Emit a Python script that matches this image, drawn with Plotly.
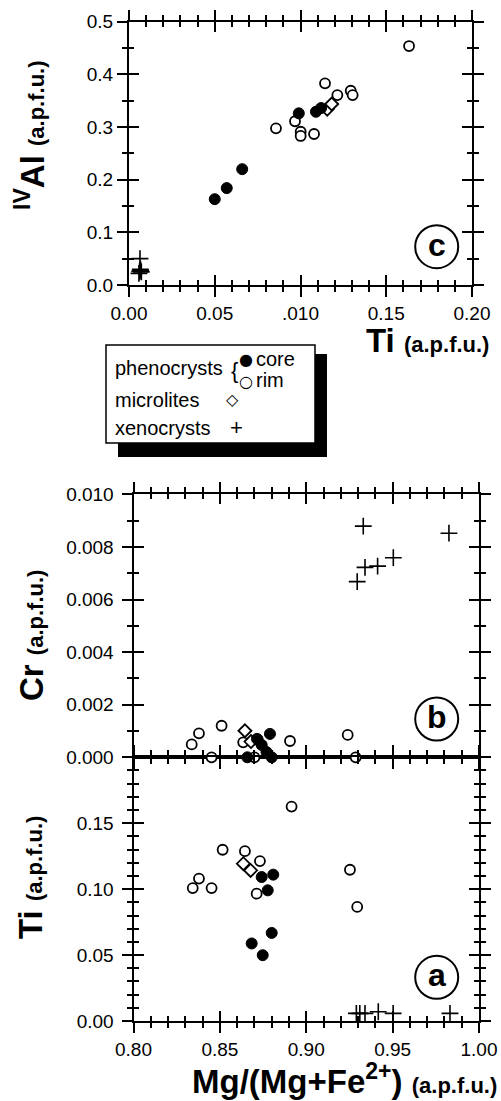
import plotly.graph_objects as go

W, H = 501, 1101
def px(x): return x / W
def py(y): return 1 - y / H

# ---------------- data ----------------
# panel c : Ti vs IV-Al
c_core_ti = [0.050, 0.057, 0.066, 0.099, 0.109, 0.112]
c_core_al = [0.163, 0.184, 0.220, 0.326, 0.329, 0.336]
c_rim_ti = [0.0857, 0.0968, 0.1001, 0.1001, 0.1079, 0.1143, 0.1215, 0.1293, 0.1304, 0.1633]
c_rim_al = [0.2975, 0.311, 0.291, 0.283, 0.2867, 0.383, 0.3607, 0.3689, 0.3607, 0.4538]
c_mic_ti = [0.1156, 0.1182]
c_mic_al = [0.334, 0.3437]
c_xen_ti = [0.0064, 0.0058, 0.0062, 0.0066, 0.0068, 0.0072]
c_xen_al = [0.050, 0.022, 0.026, 0.030, 0.028, 0.025]

# panel b : Mg# vs Cr
b_core_mg = [0.8659, 0.8742, 0.8715, 0.8770, 0.8800, 0.8790]
b_core_cr = [0.0, 0.00047, 0.0007, 0.0002, 0.0, 0.00089]
b_rim_mg = [0.8337, 0.8379, 0.8452, 0.8510, 0.8635, 0.8720, 0.8700, 0.8906, 0.9240, 0.9286]
b_rim_cr = [0.00049, 0.00091, 0.0, 0.0012, 0.00057, 0.00066, 0.0, 0.00062, 0.00085, 0.0]
b_mic_mg = [0.8645, 0.8680]
b_mic_cr = [0.00101, 0.0006]
b_xen_mg = [0.9295, 0.9330, 0.9340, 0.9413, 0.9504, 0.9826]
b_xen_cr = [0.00668, 0.00879, 0.00722, 0.00727, 0.00759, 0.00852]

# panel a : Mg# vs Ti
a_core_mg = [0.8742, 0.8809, 0.8777, 0.8800, 0.8684, 0.8748]
a_core_ti = [0.1092, 0.1110, 0.0991, 0.0668, 0.0588, 0.0499]
a_rim_mg = [0.8343, 0.8379, 0.8452, 0.8516, 0.8645, 0.8732, 0.8713, 0.8915, 0.9253, 0.9295]
a_rim_ti = [0.1008, 0.1080, 0.1008, 0.1299, 0.1288, 0.1213, 0.0966, 0.1626, 0.1147, 0.0865]
a_mic_mg = [0.8636, 0.8678]
a_mic_ti = [0.1193, 0.1142]
a_xen_mg = [0.9290, 0.9310, 0.9340, 0.9417, 0.9503, 0.9832]
a_xen_ti = [0.0058, 0.0058, 0.0058, 0.0070, 0.0058, 0.0058]

# tick labels
c_x_vals = [0.0, 0.05, 0.10, 0.15, 0.20]
c_x_text = ["0.00", "0.05", ".010", "0.15", "0.20"]
c_y_vals = [0.0, 0.1, 0.2, 0.3, 0.4, 0.5]
c_y_text = ["0.0", "0.1", "0.2", "0.3", "0.4", "0.5"]
b_y_vals = [0.0, 0.002, 0.004, 0.006, 0.008, 0.010]
b_y_text = ["0.000", "0.002", "0.004", "0.006", "0.008", "0.010"]
a_y_vals = [0.0, 0.05, 0.10, 0.15]
a_y_text = ["0.00", "0.05", "0.10", "0.15"]
a_y_major = [0.0, 0.05, 0.10, 0.15, 0.20]
mg_vals = [0.80, 0.85, 0.90, 0.95, 1.00]
mg_text = ["0.80", "0.85", "0.90", "0.95", "1.00"]

FONT = "Liberation Sans, Arial, Helvetica, sans-serif"
TICKFONT = dict(family=FONT, size=19, color="black")

fig = go.Figure()

STYLES = {
    "rim": dict(symbol="circle", size=10, color="white", line=dict(color="black", width=1.8)),
    "mic": dict(symbol="diamond", size=10, color="white", line=dict(color="black", width=1.8)),
    "core": dict(symbol="circle", size=11, color="black", line=dict(color="black", width=1)),
    "xen": dict(symbol="cross-thin", size=12, color="black", line=dict(color="black", width=1.6)),
}

def add(xs, ys, xa, ya, kind):
    fig.add_trace(go.Scatter(x=xs, y=ys, mode="markers", xaxis=xa, yaxis=ya,
                             marker=STYLES[kind], cliponaxis=False,
                             showlegend=False, hoverinfo="skip"))

# dummy traces on base axes (outside ticks, labels)
for xa, ya in [("x", "y"), ("x2", "y2"), ("x3", "y3")]:
    fig.add_trace(go.Scatter(x=[None], y=[None], xaxis=xa, yaxis=ya, mode="markers",
                             showlegend=False, hoverinfo="skip"))

# data drawn on the overlay axes (inside ticks), so all ticks stay below the marks
for xa, ya, sets in [
    ("x4", "y4", [(c_rim_ti, c_rim_al, "rim"), (c_mic_ti, c_mic_al, "mic"),
                  (c_core_ti, c_core_al, "core"), (c_xen_ti, c_xen_al, "xen")]),
    ("x5", "y5", [(b_rim_mg, b_rim_cr, "rim"), (b_mic_mg, b_mic_cr, "mic"),
                  (b_core_mg, b_core_cr, "core"), (b_xen_mg, b_xen_cr, "xen")]),
    ("x6", "y6", [(a_rim_mg, a_rim_ti, "rim"), (a_mic_mg, a_mic_ti, "mic"),
                  (a_core_mg, a_core_ti, "core"), (a_xen_mg, a_xen_ti, "xen")]),
]:
    for xs, ys, k in sets:
        add(xs, ys, xa, ya, k)

def base_axis(rng, domain, anchor, vals, text, minor_dtick, show_labels, standoff=0):
    return dict(range=rng, domain=domain, anchor=anchor, tickmode="array",
                tickvals=vals, ticktext=text, showticklabels=show_labels,
                ticks="outside", ticklen=10, tickwidth=2, tickcolor="black",
                minor=dict(tickmode="linear", tick0=0, dtick=minor_dtick, ticks="outside",
                           ticklen=5, tickwidth=2, tickcolor="black", showgrid=False),
                showline=True, linewidth=2, linecolor="black", mirror="ticks",
                showgrid=False, zeroline=False, layer="below traces", automargin=False,
                tickfont=TICKFONT, ticklabelstandoff=standoff, fixedrange=True)

def over_axis(rng, over, anchor, vals, minor_dtick):
    return dict(range=rng, overlaying=over, anchor=anchor, tickmode="array",
                tickvals=vals, showticklabels=False,
                ticks="inside", ticklen=10, tickwidth=2, tickcolor="black",
                minor=dict(tickmode="linear", tick0=0, dtick=minor_dtick, ticks="inside",
                           ticklen=5, tickwidth=2, tickcolor="black", showgrid=False),
                showline=False, mirror="ticks", automargin=False,
                showgrid=False, zeroline=False, layer="below traces", fixedrange=True)

dom_c_x = [px(129), px(472)]
dom_c_y = [py(285), py(21.7)]
dom_ab_x = [px(133.5), px(479)]
dom_b_y = [py(757.3), py(494.3)]
dom_a_y = [py(1021), py(757.3)]

fig.update_layout(
    xaxis=base_axis([0, 0.2], dom_c_x, "y", c_x_vals, c_x_text, 0.01, True, 0),
    yaxis=base_axis([0, 0.5], dom_c_y, "x", c_y_vals, c_y_text, 0.05, True, 0),
    xaxis2=base_axis([0.8, 1.0], dom_ab_x, "y2", mg_vals, mg_text, 0.01, False),
    yaxis2=base_axis([0, 0.01], dom_b_y, "x2", b_y_vals, b_y_text, 0.001, True, 4),
    xaxis3=base_axis([0.8, 1.0], dom_ab_x, "y3", mg_vals, mg_text, 0.01, True, 0),
    yaxis3=base_axis([0, 0.2], dom_a_y, "x3", a_y_major, a_y_text + [""], 0.01, True, 4),
    xaxis4=over_axis([0, 0.2], "x", "y", c_x_vals, 0.01),
    yaxis4=over_axis([0, 0.5], "y", "x", c_y_vals, 0.05),
    xaxis5=over_axis([0.8, 1.0], "x2", "y2", mg_vals, 0.01),
    yaxis5=over_axis([0, 0.01], "y2", "x2", b_y_vals, 0.001),
    xaxis6=over_axis([0.8, 1.0], "x3", "y3", mg_vals, 0.01),
    yaxis6=over_axis([0, 0.2], "y3", "x3", a_y_major, 0.01),
)

annotations = []
shapes = []

def ann(text, x, y, size, angle=0, xanchor="center", yanchor="middle", family=FONT):
    annotations.append(dict(text=text, x=px(x), y=py(y), xref="paper", yref="paper",
                            showarrow=False, textangle=angle, xanchor=xanchor, yanchor=yanchor,
                            font=dict(family=family, size=size, color="black")))

small = "<span style='font-size:22px'>(a.p.f.u.)</span>"
ann("<b><sup>IV</sup>Al " + small + "</b>", 30, 135, 33, angle=-90)
ann("<b>Ti " + small + "</b>", 491, 340, 33, xanchor="right")
ann("<b>Cr " + small + "</b>", 31, 636, 33, angle=-90)
ann("<b>Ti " + small + "</b>", 30, 878, 33, angle=-90)
ann("<b>Mg/(Mg+Fe<sup>2+</sup>) " + small + "</b>", 499, 1079, 33, xanchor="right")

# circled panel letters
R = 21.5
for letter, cx, cy in [("c", 436.7, 246.7), ("b", 436.7, 719), ("a", 436.7, 977.3)]:
    shapes.append(dict(type="circle", xref="paper", yref="paper",
                       x0=px(cx - R), x1=px(cx + R), y0=py(cy + R), y1=py(cy - R),
                       line=dict(color="black", width=2), fillcolor="white"))
    ann("<b>" + letter + "</b>", cx, cy - 2, 32)

# legend box with shadow
shapes.append(dict(type="rect", xref="paper", yref="paper", x0=px(118), x1=px(327),
                   y0=py(457), y1=py(354), fillcolor="black", line=dict(width=0)))
shapes.append(dict(type="rect", xref="paper", yref="paper", x0=px(106), x1=px(315),
                   y0=py(443), y1=py(345), fillcolor="white", line=dict(color="black", width=1.5)))
LEG = 20
ann("phenocrysts", 113, 368, LEG, xanchor="left")
ann("{", 234, 370, 22)
ann("\u25cf", 246, 360, 16, family="DejaVu Sans")
ann("\u25cb", 246, 381, 16, family="DejaVu Sans")
ann("core", 254, 359, LEG, xanchor="left")
ann("rim", 254, 380, LEG, xanchor="left")
ann("microlites", 113, 400, LEG, xanchor="left")
ann("\u25c7", 232, 399, 16, family="DejaVu Sans")
ann("xenocrysts", 113, 428, LEG, xanchor="left")
ann("+", 236, 427, 22)

fig.update_layout(
    width=W, height=H, margin=dict(l=0, r=0, t=0, b=0, autoexpand=False),
    paper_bgcolor="white", plot_bgcolor="white",
    showlegend=False, annotations=annotations, shapes=shapes,
)

fig.write_html("out.html", config={"displayModeBar": False})
